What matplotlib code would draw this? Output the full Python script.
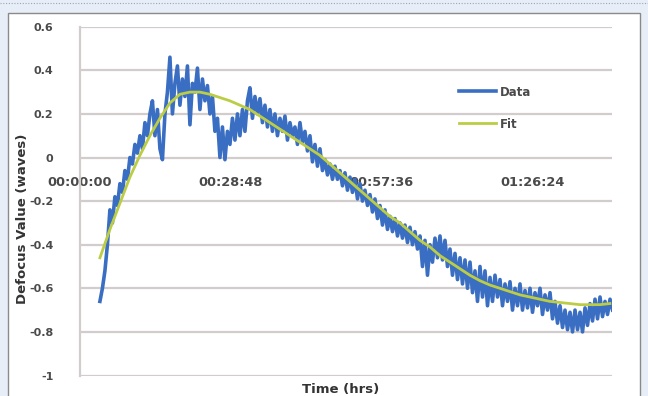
import numpy as np
import matplotlib
matplotlib.use("Agg")
import matplotlib.pyplot as plt
from matplotlib.patches import Rectangle

# Defocus measurement over time (minutes since start) and its smooth fit
data_t_start, data_t_end = 3.8, 101.6
data_values = [
    -0.66, -0.60, -0.52, -0.40, -0.24, -0.30, -0.18, -0.22, -0.12, -0.16,
    -0.06, -0.10, 0.00, -0.03, 0.06, 0.02, 0.10, 0.04, 0.16, 0.10,
    0.20, 0.26, 0.10, 0.22, 0.04, -0.01, 0.20, 0.30, 0.46, 0.20,
    0.34, 0.42, 0.24, 0.36, 0.28, 0.42, 0.15, 0.34, 0.30, 0.41,
    0.22, 0.36, 0.26, 0.33, 0.20, 0.28, 0.12, 0.18, 0.00, 0.14,
    -0.01, 0.12, 0.06, 0.18, 0.08, 0.20, 0.10, 0.22, 0.12, 0.26,
    0.32, 0.18, 0.28, 0.20, 0.27, 0.16, 0.24, 0.14, 0.22, 0.12,
    0.20, 0.10, 0.18, 0.12, 0.19, 0.08, 0.16, 0.10, 0.14, 0.06,
    0.16, 0.07, 0.12, 0.03, 0.10, -0.02, 0.06, -0.04, 0.04, -0.06,
    -0.01, -0.08, -0.03, -0.10, -0.04, -0.10, -0.06, -0.13, -0.07, -0.15,
    -0.09, -0.16, -0.10, -0.19, -0.12, -0.20, -0.15, -0.22, -0.17, -0.25,
    -0.19, -0.28, -0.22, -0.31, -0.24, -0.33, -0.27, -0.34, -0.28, -0.36,
    -0.30, -0.37, -0.31, -0.39, -0.32, -0.40, -0.34, -0.42, -0.36, -0.50,
    -0.38, -0.54, -0.40, -0.48, -0.37, -0.46, -0.36, -0.47, -0.38, -0.50,
    -0.42, -0.54, -0.44, -0.56, -0.46, -0.58, -0.47, -0.60, -0.48, -0.62,
    -0.52, -0.66, -0.50, -0.64, -0.52, -0.68, -0.55, -0.66, -0.54, -0.64,
    -0.56, -0.68, -0.58, -0.66, -0.57, -0.70, -0.60, -0.68, -0.58, -0.70,
    -0.61, -0.69, -0.60, -0.71, -0.62, -0.68, -0.60, -0.72, -0.63, -0.70,
    -0.62, -0.74, -0.66, -0.76, -0.68, -0.78, -0.70, -0.79, -0.71, -0.80,
    -0.70, -0.79, -0.71, -0.80, -0.69, -0.77, -0.67, -0.75, -0.65, -0.74,
    -0.64, -0.73, -0.66, -0.72, -0.65, -0.70,
]

fit_t_start, fit_t_end = 3.8, 101.1
fit_values = [
    -0.46, -0.33, -0.21, -0.09, 0.01, 0.10, 0.18, 0.25, 0.29, 0.30,
    0.30, 0.29, 0.275, 0.26, 0.24, 0.22, 0.19, 0.16, 0.13, 0.10,
    0.07, 0.04, 0.01, -0.03, -0.07, -0.11, -0.15, -0.19, -0.23, -0.27,
    -0.30, -0.34, -0.38, -0.41, -0.45, -0.48, -0.51, -0.54, -0.565, -0.585,
    -0.60, -0.615, -0.63, -0.64, -0.65, -0.66, -0.665, -0.67, -0.675, -0.675,
    -0.675, -0.67,
]

time_ticks_min = [0.0, 28.8, 57.6, 86.4]
time_tick_labels = ["00:00:00", "00:28:48", "00:57:36", "01:26:24"]
value_ticks = [0.6, 0.4, 0.2, 0.0, -0.2, -0.4, -0.6, -0.8, -1.0]
value_tick_labels = ["0.6", "0.4", "0.2", "0", "-0.2", "-0.4", "-0.6", "-0.8", "-1"]

data_t = np.linspace(data_t_start, data_t_end, len(data_values))
fit_t = np.linspace(fit_t_start, fit_t_end, len(fit_values))

plt.rcParams["font.family"] = ["DejaVu Sans"]

fig = plt.figure(figsize=(6.48, 3.96), dpi=100)
fig.patch.set_facecolor("#e8eef8")

# white chart area with a thin frame
W, H = 648, 396
fig.patches.append(Rectangle((8 / W, -0.02), 632 / W, (396 - 13) / H + 0.02,
                             transform=fig.transFigure, facecolor="white",
                             edgecolor="#8a8a8a", linewidth=1.0, zorder=-5))
fig.lines.append(plt.Line2D([0, 1], [1 - 3 / H, 1 - 3 / H], transform=fig.transFigure,
                            color="#9aa4b4", linewidth=0.8, linestyle=(0, (1, 1.5)),
                            zorder=-5))

ax = fig.add_axes([80 / W, (396 - 375.5) / H, 532 / W, (375.5 - 26.7) / H])
ax.set_zorder(2)
ax.patch.set_alpha(0)
ax.set_xlim(0, 101.5)
ax.set_ylim(-1.0, 0.6)

grid_color = "#d3cccc"
for v in value_ticks:
    ax.axhline(v, color=grid_color, linewidth=1.6, zorder=1)
for s in ["top", "right", "bottom"]:
    ax.spines[s].set_visible(False)
ax.spines["left"].set_color(grid_color)
ax.spines["left"].set_linewidth(1.6)

ax.plot(data_t, data_values, color="#3a6ec2", linewidth=2.6, zorder=3, label="Data")
ax.plot(fit_t, fit_values, color="#bccd45", linewidth=2.0, zorder=4, label="Fit")

ax.set_yticks(value_ticks)
ax.set_yticklabels(value_tick_labels, fontsize=8, fontweight="bold", color="#4a4a4a")
ax.tick_params(axis="y", length=0, pad=19)

ax.set_xticks([])
for t, lab in zip(time_ticks_min, time_tick_labels):
    ax.text(t, -0.115, lab, ha="center", va="center", fontsize=9.3, fontweight="bold",
            color="#4a4a4a", zorder=2)

ax.set_ylabel("Defocus Value (waves)", fontsize=9.5, fontweight="bold", color="#333333")
ax.yaxis.set_label_coords(-0.096, 0.45)
fig.text(341 / W, 1 - 389 / H, "Time (hrs)", ha="center", va="center",
         fontsize=9.5, fontweight="bold", color="#333333")

leg = ax.legend(loc="upper left", bbox_to_anchor=(448 / W, 1 - 75 / H),
                bbox_transform=fig.transFigure, frameon=False, fontsize=8.5,
                handlelength=3.2, labelspacing=1.6, handletextpad=0.3)
for txt in leg.get_texts():
    txt.set_fontweight("bold")
    txt.set_color("#4a4a4a")

fig.savefig("out.png", dpi=100, facecolor=fig.get_facecolor())
